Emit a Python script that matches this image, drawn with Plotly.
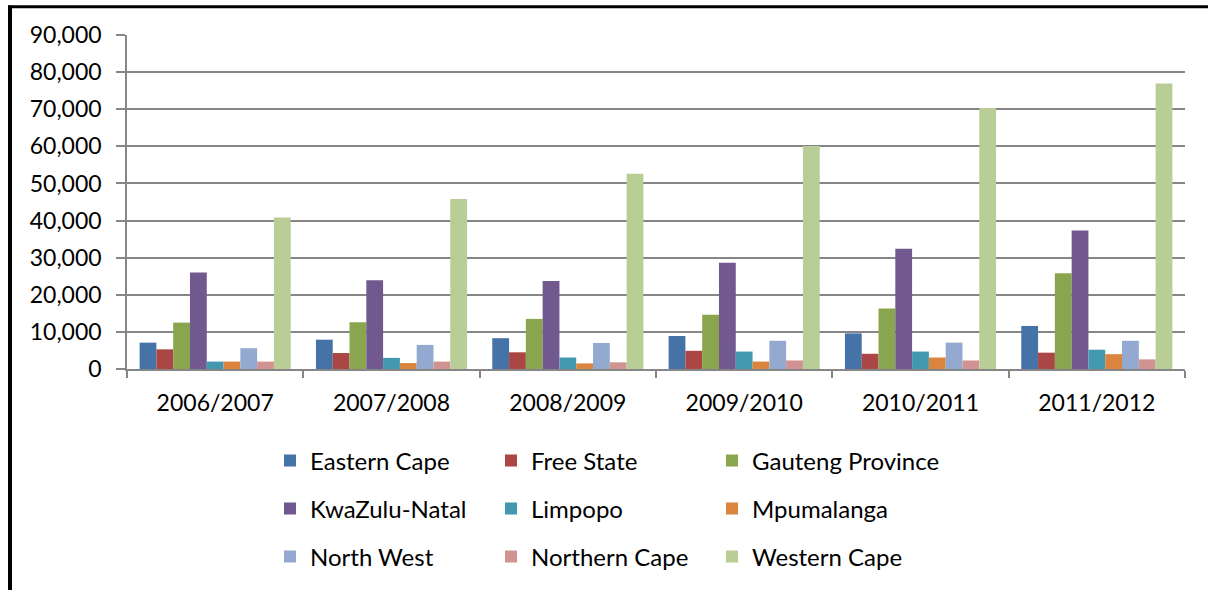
import plotly.graph_objects as go

years = ["2006/2007", "2007/2008", "2008/2009", "2009/2010", "2010/2011", "2011/2012"]

eastern_cape = [7100, 7900, 8300, 8900, 9600, 11600]
free_state = [5300, 4300, 4500, 4900, 4100, 4400]
gauteng = [12500, 12600, 13500, 14600, 16300, 25800]
kwazulu_natal = [26000, 23900, 23700, 28600, 32400, 37300]
limpopo = [2000, 3000, 3100, 4700, 4700, 5200]
mpumalanga = [2000, 1600, 1500, 2000, 3100, 4000]
north_west = [5600, 6500, 7000, 7600, 7100, 7600]
northern_cape = [2000, 2000, 1800, 2300, 2300, 2600]
western_cape = [40800, 45800, 52600, 60100, 70300, 76900]

series_names = ["Eastern Cape", "Free State", "Gauteng Province",
                "KwaZulu-Natal", "Limpopo", "Mpumalanga",
                "North West", "Northern Cape", "Western Cape"]
series_values = [eastern_cape, free_state, gauteng, kwazulu_natal, limpopo,
                 mpumalanga, north_west, northern_cape, western_cape]
colors = ["#4572A7", "#AA4643", "#89A54E", "#71588F", "#4198AF",
          "#DB843D", "#93A9CF", "#D19392", "#B9CD96"]

FONT = "Lato"
W, H = 1208, 590
L, R, T, B = 127, 23, 35, 220
pw, ph = W - L - R, H - T - B


def px_x(p):
    return (p - L) / pw


def px_y(p):
    return (H - B - p) / ph


legend_cols = [270, 491, 712]
legend_rows = [461, 509, 557]

fig = go.Figure()
legends = {}
for i, (name, vals, col) in enumerate(zip(series_names, series_values, colors)):
    key = "legend" if i == 0 else f"legend{i + 1}"
    fig.add_trace(go.Bar(name=name, x=years, y=vals, marker_color=col,
                         marker_line_width=0, legend=key, showlegend=True))
    legends[key] = dict(
        x=px_x(legend_cols[i % 3]), y=px_y(legend_rows[i // 3]),
        xanchor="left", yanchor="middle", orientation="h",
        font=dict(family=FONT, size=24, color="black"),
        bgcolor="rgba(0,0,0,0)", itemwidth=30, visible=True)

fig.update_layout(
    width=W, height=H,
    margin=dict(l=L, r=R, t=T, b=B),
    paper_bgcolor="white", plot_bgcolor="white",
    showlegend=True,
    barmode="group", bargap=0.143, bargroupgap=0,
    font=dict(family=FONT, size=23, color="black"),
    xaxis=dict(showgrid=False, showline=True, linecolor="#868686", linewidth=1.5,
               ticks="outside", tickson="boundaries", ticklen=7,
               tickcolor="#868686", tickwidth=1.5, ticklabelstandoff=13,
               tickfont=dict(family=FONT, size=23, color="black")),
    yaxis=dict(range=[0, 90000], dtick=10000, tickformat=",d",
               showgrid=True, gridcolor="#868686", gridwidth=1.5,
               showline=True, linecolor="#868686", linewidth=1.5,
               ticks="outside", ticklen=9, tickcolor="#868686", tickwidth=1.5,
               zeroline=False, ticklabelstandoff=10,
               tickfont=dict(family=FONT, size=23, color="black")),
    shapes=[
        dict(type="line", xref="paper", yref="paper",
             x0=px_x(10), x1=px_x(10), y0=px_y(5.5), y1=px_y(600),
             line=dict(color="black", width=4)),
        dict(type="line", xref="paper", yref="paper",
             x0=px_x(8), x1=px_x(1215), y0=px_y(6.7), y1=px_y(6.7),
             line=dict(color="black", width=3)),
    ],
    **legends,
)

fig.write_html("out.html", config={"displayModeBar": False},
               post_script="document.body.style.margin='0';"
                           "document.body.style.overflow='hidden';")
